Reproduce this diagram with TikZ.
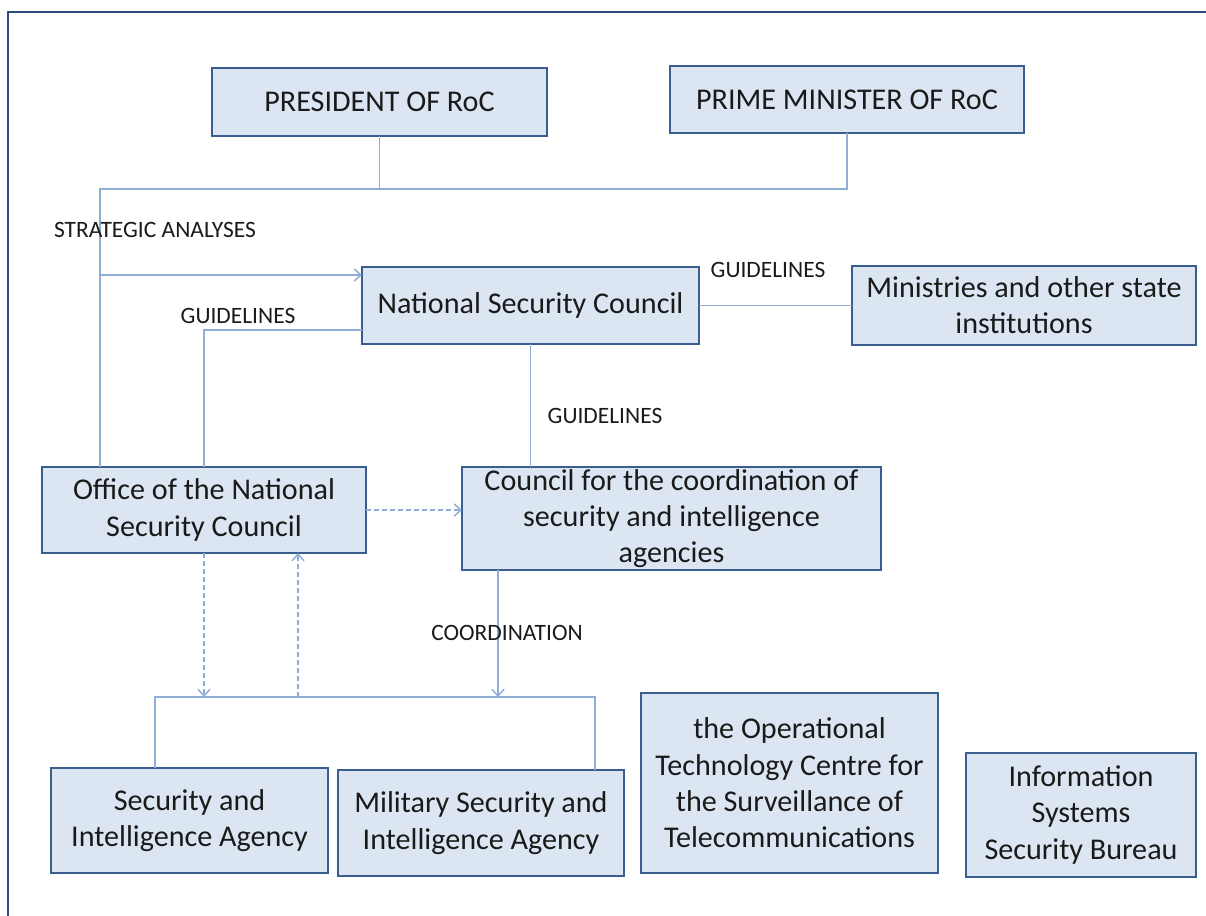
\documentclass[tikz,border=0pt]{standalone}
\usepackage{fontspec}
\setmainfont{Carlito}
\usetikzlibrary{arrows.meta,calc}
\definecolor{boxfill}{HTML}{DCE6F2}
\definecolor{boxline}{HTML}{3A5F8E}
\definecolor{connline}{HTML}{8EAED6}
\definecolor{frameline}{HTML}{2B4F81}
\definecolor{txt}{HTML}{1A1A1A}
\tikzset{
  orgbox/.style 2 args={draw=boxline, fill=boxfill, line width=2.2pt, inner sep=0pt, outer sep=0pt,
    minimum width=#1*0.75pt, minimum height=#2*0.75pt, align=center, text=txt,
    font=\fontsize{22.6}{27.2}\selectfont},
  conn/.style={draw=connline, line width=1.1pt},
  arr/.style={conn, -{Straight Barb[length=5pt,width=9pt]}},
  dasharr/.style={arr, dash pattern=on 3.5pt off 2.5pt},
  lbl/.style={text=txt, font=\fontsize{17.6}{20}\selectfont, inner sep=0pt}
}
\begin{document}
\begin{tikzpicture}[x=0.75pt,y=-0.75pt]
\useasboundingbox (0,0) rectangle (1206,916);
\draw[frameline, line width=1.6pt] (8,920) -- (8,12) -- (1210,12);

\node[orgbox={335}{68}] (pres) at (379.5,102) {PRESIDENT OF RoC};
\node[orgbox={354}{67}] (pm) at (847,99.5) {PRIME MINISTER OF RoC};
\node[orgbox={337}{77}] (nsc) at (530.5,305.5) {National Security Council};
\node[orgbox={344}{79}] (min) at (1024,305.5) {Ministries and other state\\institutions};
\node[orgbox={324}{86}] (off) at (204,510) {Office of the National\\Security Council};
\node[orgbox={419}{103}] (coun) at (671.5,518.5) {Council for the coordination of\\security and intelligence\\agencies};
\node[orgbox={277}{105}] (sia) at (189.5,820.5) {Security and\\Intelligence Agency};
\node[orgbox={286}{106}] (msia) at (481,823) {Military Security and\\Intelligence Agency};
\node[orgbox={297}{180}] (otc) at (789.5,783) {the Operational\\Technology Centre for\\the Surveillance of\\Telecommunications};
\node[orgbox={230}{124}] (issb) at (1081,815) {Information\\Systems\\Security Bureau};

\coordinate (tl) at (100,189);
\coordinate (sa) at (100,275);
\coordinate (hb) at (155,697);
\coordinate (hr) at (595,697);
\coordinate (up) at (298,697);
\coordinate (cd) at (498,697);

\draw[conn] (pres.south) -- (pres.south |- tl);
\draw[conn] (pm.south) |- (tl) -- (tl |- off.north);
\draw[arr] (sa) -- (sa -| nsc.west);
\draw[conn] (off.north) |- ($(nsc.west)+(0,24.5)$);
\draw[conn] (nsc.east) -- (min.west);
\draw[conn] (nsc.south) -- (nsc.south |- coun.north);
\draw[dasharr] (off.east) -- (off.east -| coun.west);
\draw[dasharr] (off.south) -- (off.south |- hb);
\draw[dasharr] (up) -- (up |- off.south);
\draw[arr] (cd |- coun.south) -- (cd);
\draw[conn] (hb |- sia.north) -- (hb) -- (hr) -- (hr |- msia.north);

\node[lbl] (lsa) at (155,230) {STRATEGIC ANALYSES};
\node[lbl] (lg1) at (238,316) {GUIDELINES};
\node[lbl] (lg2) at (768,270) {GUIDELINES};
\node[lbl] (lg3) at (605,416) {GUIDELINES};
\node[lbl] (lco) at (507,633) {COORDINATION};
\end{tikzpicture}
\end{document}
